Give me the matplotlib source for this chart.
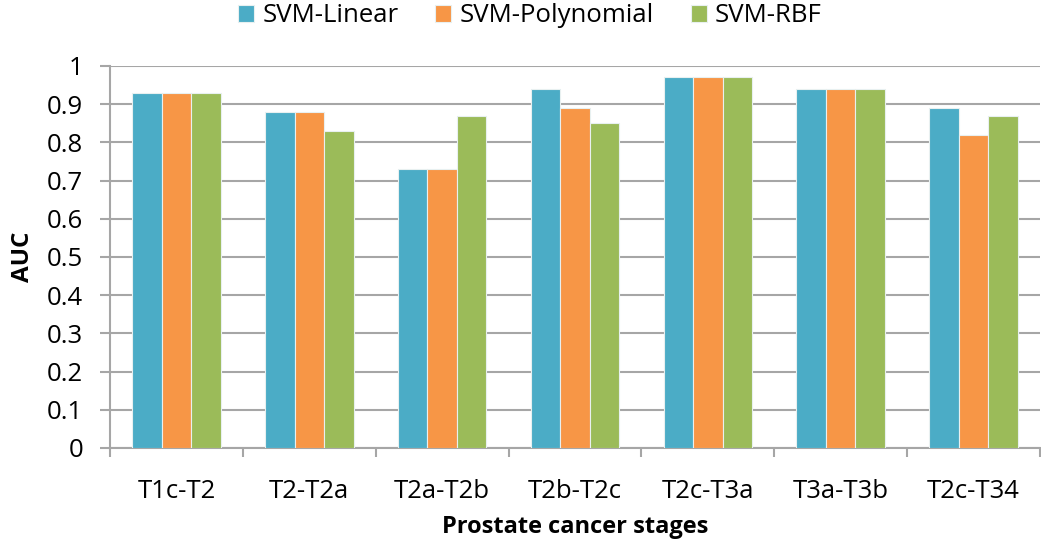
import matplotlib.pyplot as plt
import numpy as np

categories = ["T1c-T2", "T2-T2a", "T2a-T2b", "T2b-T2c", "T2c-T3a", "T3a-T3b", "T2c-T34"]
svm_linear = [0.93, 0.88, 0.73, 0.94, 0.97, 0.94, 0.89]
svm_poly = [0.93, 0.88, 0.73, 0.89, 0.97, 0.94, 0.82]
svm_rbf = [0.93, 0.83, 0.87, 0.85, 0.97, 0.94, 0.87]
series_names = ["SVM-Linear", "SVM-Polynomial", "SVM-RBF"]
colors = ["#4BACC6", "#F79646", "#9BBB59"]
yticks = [0, 0.1, 0.2, 0.3, 0.4, 0.5, 0.6, 0.7, 0.8, 0.9, 1]
ytick_labels = ["0", "0.1", "0.2", "0.3", "0.4", "0.5", "0.6", "0.7", "0.8", "0.9", "1"]

plt.rcParams['font.family'] = ['Open Sans', 'DejaVu Sans']

fig = plt.figure(figsize=(10.41, 5.43), dpi=100)
ax = fig.add_axes([0.1057, 0.175, 0.8933, 0.7035])

x = np.arange(len(categories))
w = 0.222
grid_c = "#A6A6A6"
for i, (vals, name, c) in enumerate(zip([svm_linear, svm_poly, svm_rbf], series_names, colors)):
    ax.bar(x + (i - 1) * w, vals, width=w, color=c, label=name,
           edgecolor="#E8F0F0", linewidth=0.8, zorder=3)

ax.set_xlim(-0.5, len(categories) - 0.5)
ax.set_ylim(0, 1)
ax.set_yticks(yticks)
ax.set_yticklabels(ytick_labels, fontsize=18.5)
ax.set_xticks(x)
ax.set_xticklabels(categories, fontsize=18.5)
ax.tick_params(axis='x', length=0, pad=22)
ax.tick_params(axis='y', length=7.2, width=1.5, color=grid_c, pad=12)
ax.set_xticks(np.arange(-0.5, len(categories)), minor=True)
ax.tick_params(axis='x', which='minor', length=6.5, width=1.5, color=grid_c)

ax.yaxis.grid(True, color=grid_c, linewidth=1.5, zorder=0)
ax.set_axisbelow(True)
for s in ["top", "right"]:
    ax.spines[s].set_visible(False)
for s in ["left", "bottom"]:
    ax.spines[s].set_color(grid_c)
    ax.spines[s].set_linewidth(1.5)

ax.set_ylabel("AUC", fontsize=17.5, fontweight="bold", va="center")
ax.yaxis.set_label_coords((23 - 110) / 930, 0.5)
ax.set_xlabel("Prostate cancer stages", fontsize=17, fontweight="bold", va="center")
ax.xaxis.set_label_coords(0.5, (448 - 527) / 382)

fig.legend(loc="center", bbox_to_anchor=(0.509, 1 - 16 / 543), ncol=3, frameon=False,
           fontsize=18.5, handlelength=0.62, handleheight=0.62, handletextpad=0.31,
           columnspacing=1.44, borderpad=0)

fig.savefig("out.png", dpi=100)
